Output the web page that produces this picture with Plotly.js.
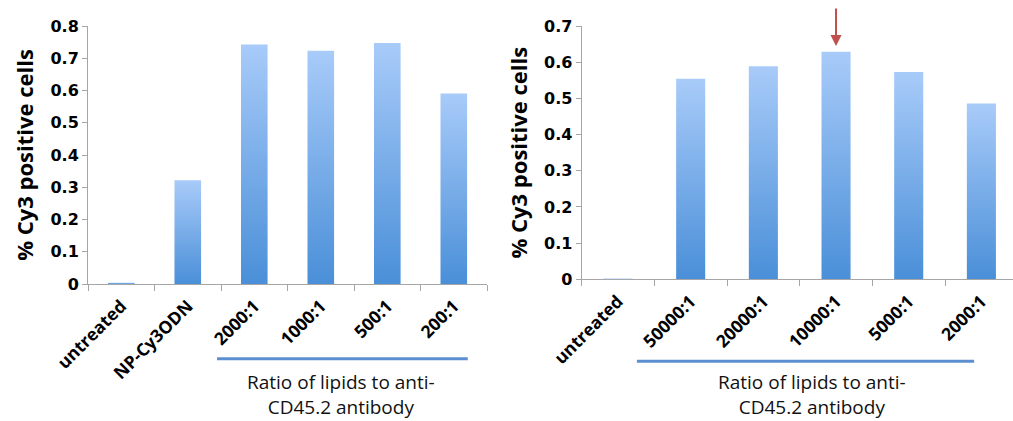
<!DOCTYPE html>
<html><head><meta charset="utf-8">
<script src="https://cdn.plot.ly/plotly-3.0.1.min.js"></script>
<style>html,body{margin:0;padding:0;background:#fff}</style>
</head><body><div id="chart" style="width:1013px;height:421px"></div>
<script>
const leftCategories = ['untreated', 'NP-Cy3ODN', '2000:1', '1000:1', '500:1', '200:1'];
const leftValues = [0.004, 0.322, 0.743, 0.723, 0.747, 0.591];
const rightCategories = ['untreated', '50000:1', '20000:1', '10000:1', '5000:1', '2000:1'];
const rightValues = [0.002, 0.554, 0.589, 0.629, 0.573, 0.486];
const leftYTicks = [0, 0.1, 0.2, 0.3, 0.4, 0.5, 0.6, 0.7, 0.8];
const leftYTickText = ['0', '0.1', '0.2', '0.3', '0.4', '0.5', '0.6', '0.7', '0.8'];
const rightYTicks = [0, 0.1, 0.2, 0.3, 0.4, 0.5, 0.6, 0.7];
const rightYTickText = ['0', '0.1', '0.2', '0.3', '0.4', '0.5', '0.6', '0.7'];
const yTitle = '% Cy3 positive cells';
const groupLabel = 'Ratio of lipids to anti-<br>CD45.2 antibody';
const highlightCategory = '10000:1';

const FONT = 'Open Sans, Liberation Sans, sans-serif';
const axisGray = '#a6a6a6';
const tickFont = {family: FONT, size: 17.5, weight: 'bold', color: '#000'};
const yTickFont = {family: 'DejaVu Sans, sans-serif', size: 16, weight: 'bold', color: '#000'};
const titleFont = {family: FONT, size: 22, weight: 'bold', color: '#000'};

function xAxis(domain, range, anchor) {
  return {
    domain: domain, anchor: anchor, type: 'category', range: range,
    showline: true, linecolor: axisGray, linewidth: 1,
    ticks: 'outside', tickson: 'boundaries', ticklen: 6, tickcolor: axisGray,
    tickangle: -45, tickfont: tickFont, ticklabelstandoff: 4,
    showgrid: false, zeroline: false, fixedrange: true, automargin: false
  };
}
function yAxis(domain, range, tv, tt, anchor) {
  return {
    domain: domain, anchor: anchor, range: range,
    tickvals: tv, ticktext: tt,
    showline: true, linecolor: axisGray, linewidth: 1,
    ticks: 'outside', ticklen: 5, tickcolor: axisGray,
    tickfont: yTickFont, showgrid: false, zeroline: false,
    title: {text: yTitle, font: titleFont, standoff: 10},
    fixedrange: true, automargin: false
  };
}

const traces = [
  {type: 'bar', x: leftCategories, y: leftValues, xaxis: 'x', yaxis: 'y',
   width: 0.4, marker: {color: '#7aaae8'}, hoverinfo: 'x+y'},
  {type: 'bar', x: rightCategories, y: rightValues, xaxis: 'x2', yaxis: 'y2',
   width: 0.4, marker: {color: '#7aaae8'}, hoverinfo: 'x+y'}
];

const layout = {
  width: 1013, height: 421,
  margin: {l: 0, r: 0, t: 0, b: 0},
  paper_bgcolor: '#fff', plot_bgcolor: '#fff',
  showlegend: false,
  xaxis: xAxis([0.0869, 0.4808], [-0.5, 5.5], 'y'),
  yaxis: yAxis([0.3254, 0.9382], [0, 0.8], leftYTicks, leftYTickText, 'x'),
  xaxis2: xAxis([0.5742, 1], [-0.5, 5.435], 'y2'),
  yaxis2: yAxis([0.3366, 0.9382], [0, 0.7], rightYTicks, rightYTickText, 'x2'),
  shapes: [
    {type: 'line', xref: 'x', yref: 'paper', x0: 1.44, x1: 5.21, y0: 0.148, y1: 0.148,
     line: {color: '#5b8fd0', width: 3}},
    {type: 'line', xref: 'x2', yref: 'paper', x0: 0.26, x1: 4.9, y0: 0.1418, y1: 0.1418,
     line: {color: '#5b8fd0', width: 3}}
  ],
  annotations: [
    {xref: 'x', yref: 'paper', x: 3.3, y: 0.064, yanchor: 'middle', text: groupLabel, showarrow: false,
     font: {family: FONT, size: 19, color: '#111'}, align: 'center'},
    {xref: 'x2', yref: 'paper', x: 2.67, y: 0.062, yanchor: 'middle', text: groupLabel, showarrow: false,
     font: {family: FONT, size: 19, color: '#111'}, align: 'center'},
    {xref: 'x2', yref: 'y2', x: highlightCategory, y: 0.645, text: '', showarrow: true,
     ax: 0, ay: -39, arrowcolor: '#c0504d', arrowwidth: 2, arrowhead: 2, arrowsize: 1.1}
  ]
};

Plotly.newPlot('chart', traces, layout, {displayModeBar: false, staticPlot: true}).then(function (gd) {
  const svg = gd.querySelector('svg.main-svg');
  const ns = 'http://www.w3.org/2000/svg';
  let defs = svg.querySelector('defs');
  if (!defs) { defs = document.createElementNS(ns, 'defs'); svg.insertBefore(defs, svg.firstChild); }
  const g = document.createElementNS(ns, 'linearGradient');
  g.setAttribute('id', 'barGrad');
  g.setAttribute('x1', '0'); g.setAttribute('y1', '0');
  g.setAttribute('x2', '0'); g.setAttribute('y2', '1');
  [['0', '#a8cbf9'], ['1', '#4a8fd8']].forEach(function (s) {
    const st = document.createElementNS(ns, 'stop');
    st.setAttribute('offset', s[0]); st.setAttribute('stop-color', s[1]);
    g.appendChild(st);
  });
  defs.appendChild(g);
  gd.querySelectorAll('.trace.bars .point path').forEach(function (p) {
    p.style.fill = 'url(#barGrad)';
  });
});
</script>
</body></html>
